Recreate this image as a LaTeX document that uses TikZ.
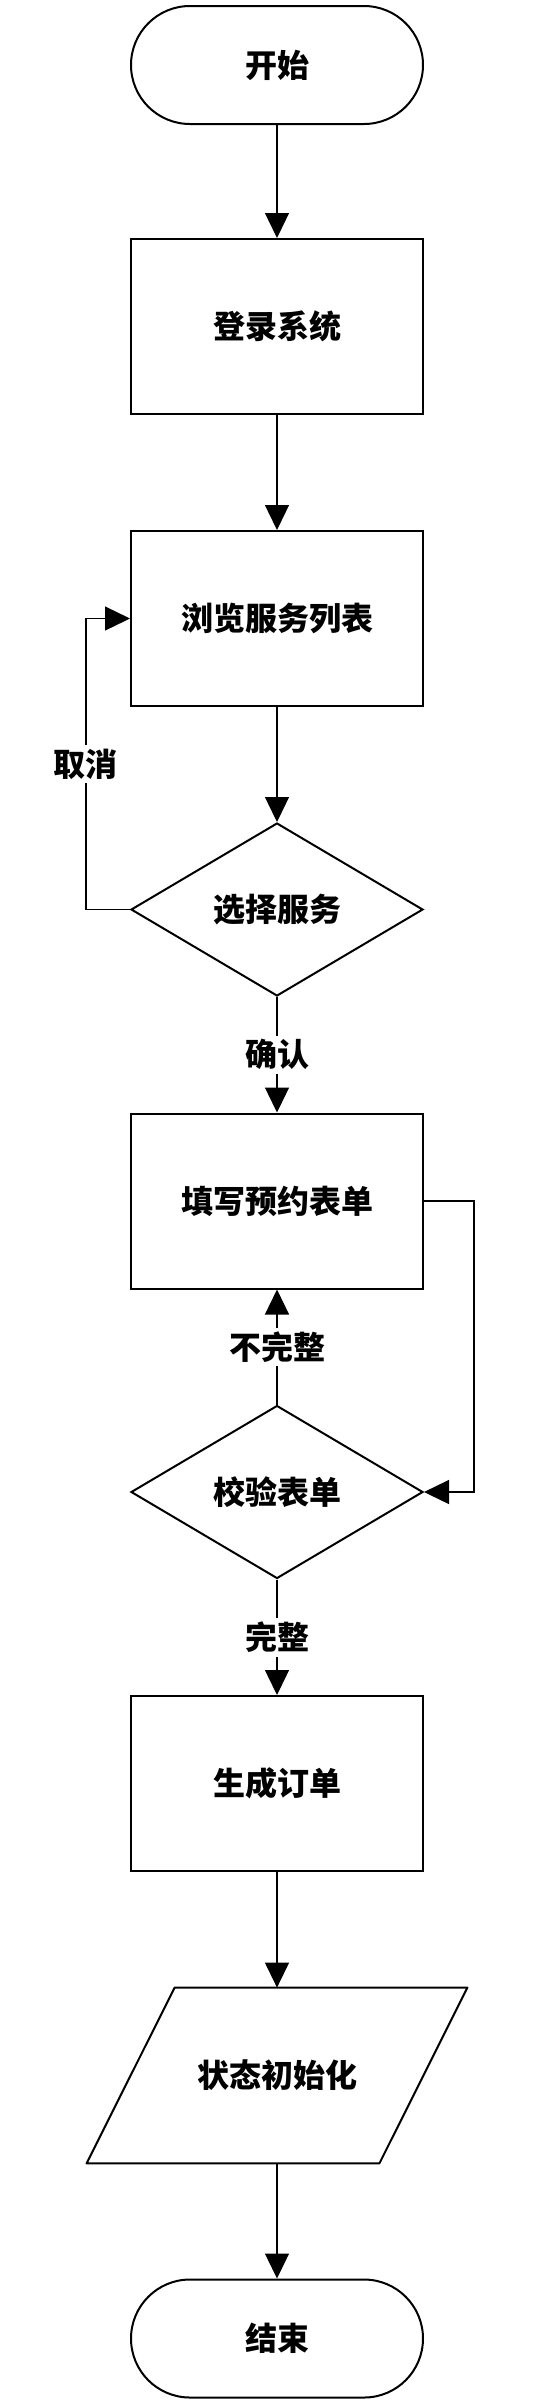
\documentclass[tikz,border=0pt]{standalone}
\usepackage{fontspec}
\setmainfont{Noto Sans CJK SC}
\usepackage{tikz}
\usetikzlibrary{shapes.geometric}
\usetikzlibrary{arrows.meta}

\begin{document}
\begin{tikzpicture}[x = 0.5pt, y = -0.5pt,
        every node/.style = {font = \bfseries\fontsize{16}{19}\selectfont},
        box/.style = {rectangle, draw, line width = 1pt, minimum width = 146pt, minimum height = 87.5pt, inner sep = 0pt},
        term/.style = {rectangle, draw, rounded corners = 29.5pt, line width = 1pt, minimum width = 146pt, minimum height = 59pt, inner sep = 0pt},
        choice/.style = {diamond, draw, aspect = 1.69, line width = 1pt, minimum width = 146pt, minimum height = 86.5pt, inner sep = 0pt},
        io/.style = {rectangle, minimum width = 146pt, minimum height = 87.5pt, inner sep = 0pt},
        lbl/.style = {fill = white, inner sep = 2pt},
        arr/.style = {-{Triangle[length = 12.5pt, width = 12pt]}, line width = 0.65pt}]
        \useasboundingbox (0, 0) rectangle (554, 2400);
        \node (start) at (277, 65) [term] {开始};
        \node (login) at (277, 326.5) [box] {登录系统};
        \node (browse) at (277, 618.5) [box] {浏览服务列表};
        \node (select) at (277, 909.5) [choice] {选择服务};
        \node (form) at (277, 1201) [box] {填写预约表单};
        \node (check) at (277, 1492) [choice] {校验表单};
        \node (gen) at (277, 1783.5) [box] {生成订单};
        \node (init) at (277, 2075.5) [io] {状态初始化};
        \node (stop) at (277, 2338.5) [term] {结束};
        \draw [line width = 1pt, line join = round] ([xshift = 22pt] init.north west) -- ([xshift = 22pt] init.north east)
            -- ([xshift = -22pt] init.south east) -- ([xshift = -22pt] init.south west) -- cycle;
        \draw [arr] (start) -- (login);
        \draw [arr] (login) -- (browse);
        \draw [arr] (browse) -- (select);
        \draw [arr] (select.west) -- ++(-44, 0) |- node [lbl, pos = 0.25] {取消} (browse.west);
        \draw [arr] (select) -- node [lbl] {确认} (form);
        \draw [arr] (form.east) -- ++(50, 0) |- (check.east);
        \draw [arr] (check) -- node [lbl] {不完整} (form);
        \draw [arr] (check) -- node [lbl] {完整} (gen);
        \draw [arr] (gen) -- (init);
        \draw [arr] (init) -- (stop);
    \end{tikzpicture}
\end{document}
